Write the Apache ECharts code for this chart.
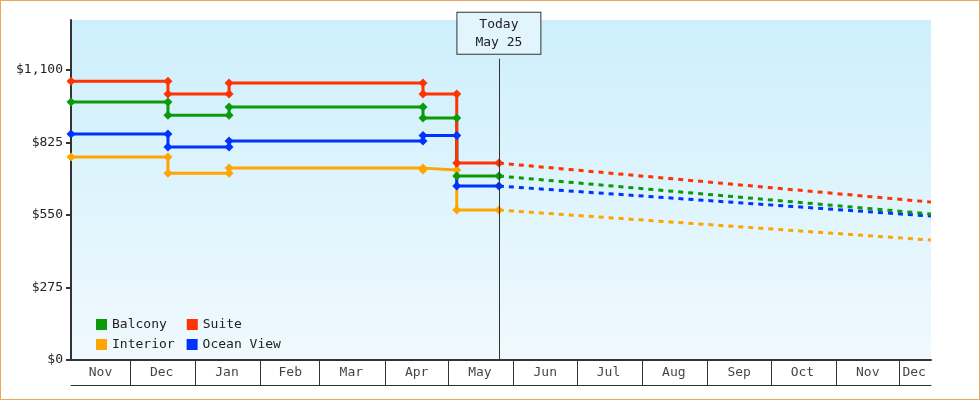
<!DOCTYPE html>
<html><head><meta charset="utf-8">
<script src="https://cdn.jsdelivr.net/npm/echarts@6/dist/echarts.min.js"></script>
<style>
  html, body { margin: 0; padding: 0; background: #fff; }
  #c { width: 978px; height: 398px; border: 1px solid #e8a860; }
</style></head>
<body><div id="c"></div>
<script>
// step changes: each date appears twice (old price, new price)
var stepDates = ["2024-11-03", "2024-12-19", "2024-12-19", "2025-01-17", "2025-01-17",
  "2025-04-19", "2025-04-19", "2025-05-05", "2025-05-05", "2025-05-25"];
var suite    = [1058, 1058, 1009, 1009, 1051, 1051, 1009, 1009, 747, 747];
var balcony  = [979, 979, 929, 929, 960, 960, 918, 918, 698, 698];
var ocean    = [857, 857, 808, 808, 831, 831, 852, 852, 660, 660];
var interior = [770, 770, 709, 709, 728, 728, 721, 721, 569, 569];

var forecastDates = ["2025-05-25", "2025-12-16"];
var suiteF    = [747, 599];
var balconyF  = [698, 554];
var oceanF    = [660, 546];
var interiorF = [569, 455];

var today = "2025-05-25";
var xMin = "2024-11-03", xMax = "2025-12-16";
var monthNames = ["Nov", "Dec", "Jan", "Feb", "Mar", "Apr", "May", "Jun", "Jul", "Aug", "Sep", "Oct", "Nov", "Dec"];
var monthMids = ["2024-11-17", "2024-12-16", "2025-01-16", "2025-02-15", "2025-03-16", "2025-04-16", "2025-05-16",
  "2025-06-16", "2025-07-16", "2025-08-16", "2025-09-16", "2025-10-16", "2025-11-16", "2025-12-08"];
var monthStarts = ["2024-12-01", "2025-01-01", "2025-02-01", "2025-03-01", "2025-04-01", "2025-05-01",
  "2025-06-01", "2025-07-01", "2025-08-01", "2025-09-01", "2025-10-01", "2025-11-01", "2025-12-01"];

var FONT = "DejaVu Sans Mono";
var colors = { Balcony: "#0a9a0a", Suite: "#ff3300", Interior: "#ffa500", "Ocean View": "#0033ff" };

function pairs(dates, vals) { return dates.map(function (d, i) { return [d, vals[i]]; }); }

function solid(name, vals) {
  return { name: name, type: "line", data: pairs(stepDates, vals), symbol: "diamond", symbolSize: 9,
    lineStyle: { width: 3, color: colors[name] }, itemStyle: { color: colors[name] }, z: 3 };
}
function dashed(name, vals) {
  return { name: name + " forecast", type: "line", data: pairs(forecastDates, vals), symbol: "none",
    lineStyle: { width: 3, color: colors[name], type: [5, 5] }, itemStyle: { color: colors[name] } };
}

var series = [
  solid("Interior", interior), solid("Ocean View", ocean), solid("Balcony", balcony), solid("Suite", suite),
  dashed("Interior", interiorF), dashed("Ocean View", oceanF), dashed("Balcony", balconyF), dashed("Suite", suiteF)
];
series[3].markLine = {
  silent: true, symbol: "none",
  lineStyle: { color: "#333", width: 1, type: "solid" },
  data: [[{ coord: [today, 0] }, { coord: [today, 1143],
    label: { show: true, position: "end", formatter: "Today\nMay 25", fontFamily: FONT, fontSize: 13,
      color: "#222", lineHeight: 18, backgroundColor: "#e2f5fc", borderColor: "#333", borderWidth: 1,
      padding: [3, 18, 2, 18] } }]]
};
series.push({
  type: "scatter", xAxisIndex: 1, yAxisIndex: 1, symbolSize: 0, silent: true,
  data: monthMids.map(function (d, i) { return { value: [d, 0.5], label: { formatter: monthNames[i] } }; }),
  label: { show: true, position: "inside", color: "#111", fontFamily: FONT, fontSize: 13 },
  markLine: { silent: true, symbol: "none", label: { show: false },
    lineStyle: { color: "#333", width: 1, type: "solid" },
    data: monthStarts.map(function (d) { return { xAxis: d }; }) }
});

var chart = echarts.init(document.getElementById("c"));
chart.setOption({
  animation: false,
  textStyle: { fontFamily: FONT },
  grid: [
    { left: 70, right: 48, top: 19, bottom: 39, show: true, borderWidth: 0,
      backgroundColor: new echarts.graphic.LinearGradient(0, 0, 0, 1,
        [{ offset: 0, color: "#cdeffc" }, { offset: 1, color: "#f0f9fe" }]) },
    { left: 70, right: 48, top: 359, height: 25 }
  ],
  legend: [
    { data: ["Balcony", "Suite"], left: 90, top: 312, itemWidth: 11, itemHeight: 11, itemGap: 20, icon: "rect",
      textStyle: { fontFamily: FONT, fontSize: 13, color: "#222" } },
    { data: ["Interior", "Ocean View"], left: 90, top: 332, itemWidth: 11, itemHeight: 11, itemGap: 12, icon: "rect",
      textStyle: { fontFamily: FONT, fontSize: 13, color: "#222" } }
  ],
  xAxis: [
    { type: "time", min: xMin, max: xMax, gridIndex: 0, axisLabel: { show: false }, axisTick: { show: false },
      splitLine: { show: false }, axisLine: { lineStyle: { color: "#333", width: 2 } } },
    { type: "time", min: xMin, max: xMax, gridIndex: 1, axisLabel: { show: false }, axisTick: { show: false },
      splitLine: { show: false }, axisLine: { lineStyle: { color: "#333", width: 1 } } }
  ],
  yAxis: [
    { type: "value", min: 0, max: 1290, interval: 275, gridIndex: 0,
      axisLine: { show: true, lineStyle: { color: "#333", width: 2 } },
      axisTick: { show: true, length: 5, lineStyle: { color: "#333", width: 2 } },
      splitLine: { show: false },
      axisLabel: { showMaxLabel: false, color: "#222", fontFamily: FONT, fontSize: 13, margin: 8,
        formatter: function (v) { return "$" + v.toLocaleString("en-US"); } } },
    { type: "value", min: 0, max: 1, gridIndex: 1, show: false }
  ],
  series: series
});
</script></body></html>
